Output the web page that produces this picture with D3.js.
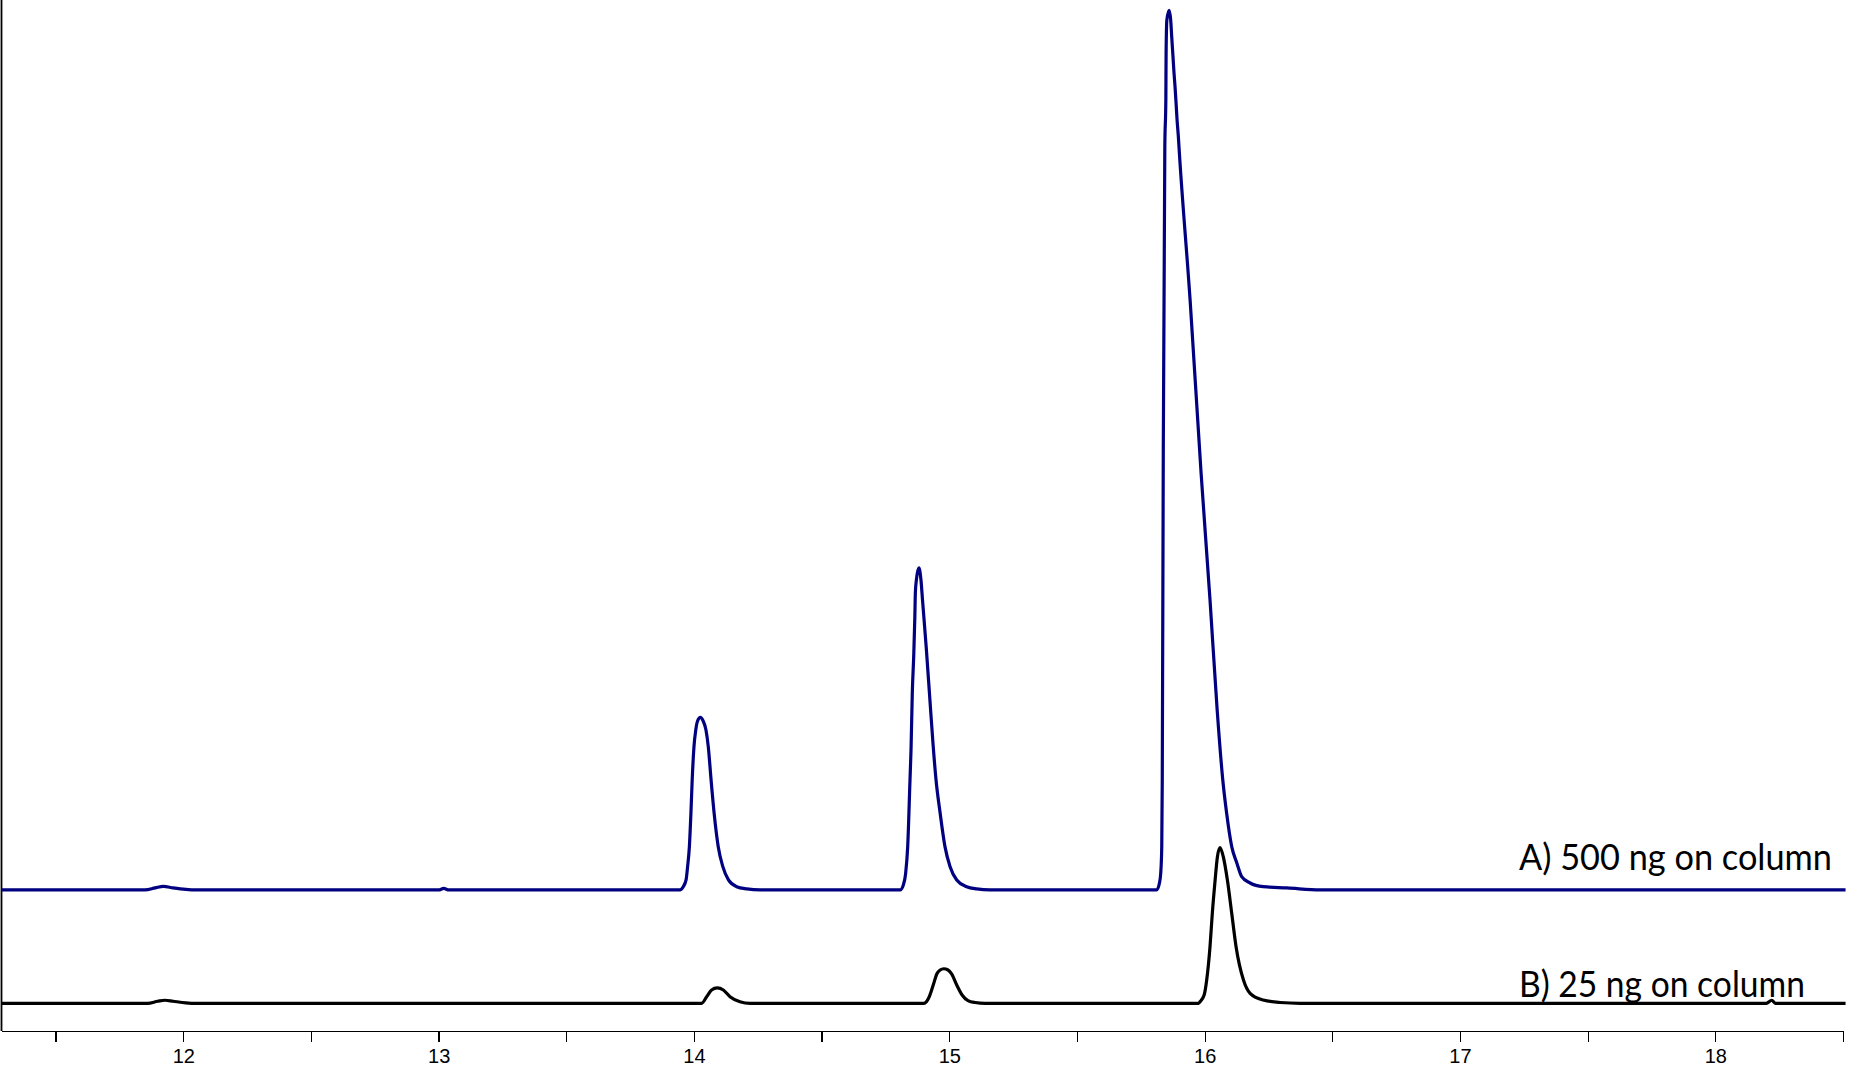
<!DOCTYPE html>
<meta charset="utf-8">

<script src="https://d3js.org/d3.v7.min.js"></script>

<style type="text/css">

body {
  margin: 0;
  background: #fff;
}

.axis path,
.axis line {
  stroke: #000;
  stroke-width: 1.3px;
  shape-rendering: crispEdges;
}

.axis text {
  font-family: "Liberation Sans", Arial, sans-serif;
  font-size: 20px;
  fill: #000;
}

.yLine {
  stroke: #000;
  stroke-width: 1.8px;
}

/* style traces */
.trace {
  fill: none;
  stroke-width: 3.2px;
  stroke-linejoin: round;
}

.traceLabel {
  font-family: Lato, "Open Sans", sans-serif;
  font-size: 37px;
  fill: #000;
}

</style>

<body>
</body>

<script>

// retention time (min) and response above baseline
var timeTicks = [11.5, 12, 12.5, 13, 13.5, 14, 14.5, 15, 15.5, 16, 16.5, 17, 17.5, 18, 18.5];
var timeRange = [11.288, 18.5];

// A) 500 ng on column
var traceA = [
  [11.288, 0], [11.85, 0], [11.89, 2], [11.922, 3.5], [11.96, 2], [12.01, 0.5], [12.05, 0],
  [13.0, 0], [13.02, 1.5], [13.04, 0],
  [13.945, 0], [13.958, 3.2], [13.969, 9.8], [13.975, 22.8], [13.982, 42.4], [13.988, 75.0],
  [13.993, 107.6], [14.000, 140.2], [14.007, 156.5], [14.014, 165.3], [14.025, 168.8],
  [14.036, 165.3], [14.047, 156.5], [14.056, 140.2], [14.067, 107.6], [14.079, 75.0],
  [14.095, 42.4], [14.113, 22.8], [14.135, 9.8], [14.167, 3.2], [14.207, 1.0], [14.259, 0],
  [14.807, 0], [14.820, 4.9], [14.829, 16.3], [14.837, 42.4], [14.846, 107.6], [14.850, 136.9],
  [14.855, 192.6], [14.861, 231.9], [14.865, 267.4], [14.867, 290.6], [14.871, 303.3],
  [14.881, 315.1], [14.889, 303.3], [14.895, 283.8], [14.910, 235.8], [14.924, 185.9],
  [14.937, 140.2], [14.948, 107.6], [14.964, 75.3],
  [14.983, 42.4], [15.003, 22.8], [15.029, 9.8], [15.068, 3.2], [15.107, 1.0], [15.159, 0],
  [15.812, 0], [15.823, 6.8], [15.828, 16.6], [15.832, 42.4], [15.834, 107.6], [15.838, 430.5],
  [15.844, 727.0], [15.848, 773.0], [15.849, 819.0], [15.852, 851.3], [15.861, 860.6],
  [15.867, 851.3], [15.871, 834.9], [15.876, 815.4], [15.880, 799.4], [15.884, 786.0],
  [15.888, 770.1], [15.892, 753.4], [15.897, 737.1], [15.901, 721.1], [15.943, 577.3],
  [15.986, 408.0], [16.021, 283.8], [16.049, 176.1], [16.071, 107.6], [16.086, 75.3],
  [16.106, 42.4], [16.126, 26.4], [16.145, 13.0], [16.178, 6.8], [16.229, 3.2], [16.323, 2.0],
  [16.452, 0], [18.51, 0]
];

// B) 25 ng on column
var traceB = [
  [11.288, 0], [11.86, 0], [11.90, 2], [11.928, 3], [11.96, 2], [12.01, 0.5], [12.05, 0],
  [14.030, 0], [14.050, 6.5], [14.069, 13.0], [14.091, 15.0], [14.115, 13.0], [14.141, 6.5],
  [14.180, 1.6], [14.220, 0],
  [14.901, 0], [14.921, 6.2], [14.937, 17.9], [14.951, 28.7], [14.964, 32.6], [14.978, 33.8],
  [14.995, 32.6], [15.009, 28.7], [15.029, 17.9], [15.050, 8.1], [15.073, 2.7], [15.101, 0.8],
  [15.140, 0],
  [15.975, 0], [15.982, 1.6], [15.998, 8.1], [16.008, 22.8], [16.021, 55.4], [16.030, 88.1],
  [16.041, 120.6], [16.050, 143.4], [16.060, 152.4], [16.073, 143.4], [16.089, 120.6],
  [16.106, 88.1], [16.123, 55.4], [16.152, 22.8], [16.178, 9.8], [16.229, 3.2], [16.295, 0.8],
  [16.374, 0], [18.20, 0], [18.221, 3], [18.235, 0], [18.51, 0]
];

// vertical offset of each trace in the overlay
var offsetA = 138;
var offsetB = 27.1;
var labelA = 'A) 500 ng on column';
var labelB = 'B) 25 ng on column';
var labelTime = 17.231;

// define svg and sizes
var width = 1856,
    height = 1079;
var svg = d3.select("body").append("svg")
    .attr("width", width)
    .attr("height", height);

var xScale = d3.scaleLinear()
  .domain(timeRange)
  .range([1.5, 1843]);

var yScale = d3.scaleLinear()
  .domain([0, 1000])
  .range([1031, 9]);

// x axis, only whole minutes get a label
var xAxis = d3.axisBottom(xScale)
  .tickValues(timeTicks)
  .tickSize(11)
  .tickSizeOuter(0)
  .tickPadding(7)
  .tickFormat(function(d) { return d % 1 === 0 ? d : ''; });

svg.append("g")
    .attr("class", "x axis")
    .attr("transform", "translate(0," + yScale(0) + ")")
    .call(xAxis);

// plain left line, no ticks
svg.append('line')
  .attr('class', 'yLine')
  .attr('x1', xScale(timeRange[0]))
  .attr('x2', xScale(timeRange[0]))
  .attr('y1', 0)
  .attr('y2', yScale(0));

function lineFor(offset) {
  return d3.line()
    .x(function(d) { return xScale(d[0]); })
    .y(function(d) { return yScale(d[1] + offset); })
    .curve(d3.curveMonotoneX);
}

svg.append('path')
  .attr('class', 'trace')
  .style('stroke', '#000')
  .attr('d', lineFor(offsetB)(traceB));

svg.append('path')
  .attr('class', 'trace')
  .style('stroke', '#000080')
  .attr('d', lineFor(offsetA)(traceA));

// trace labels
svg.append('text')
  .attr('class', 'traceLabel')
  .attr('x', xScale(labelTime))
  .attr('y', yScale(offsetA) - 20)
  .attr('textLength', 313)
  .attr('lengthAdjust', 'spacingAndGlyphs')
  .text(labelA);

svg.append('text')
  .attr('class', 'traceLabel')
  .attr('x', xScale(labelTime))
  .attr('y', yScale(offsetB) - 6.5)
  .attr('textLength', 286)
  .attr('lengthAdjust', 'spacingAndGlyphs')
  .text(labelB);

</script>
